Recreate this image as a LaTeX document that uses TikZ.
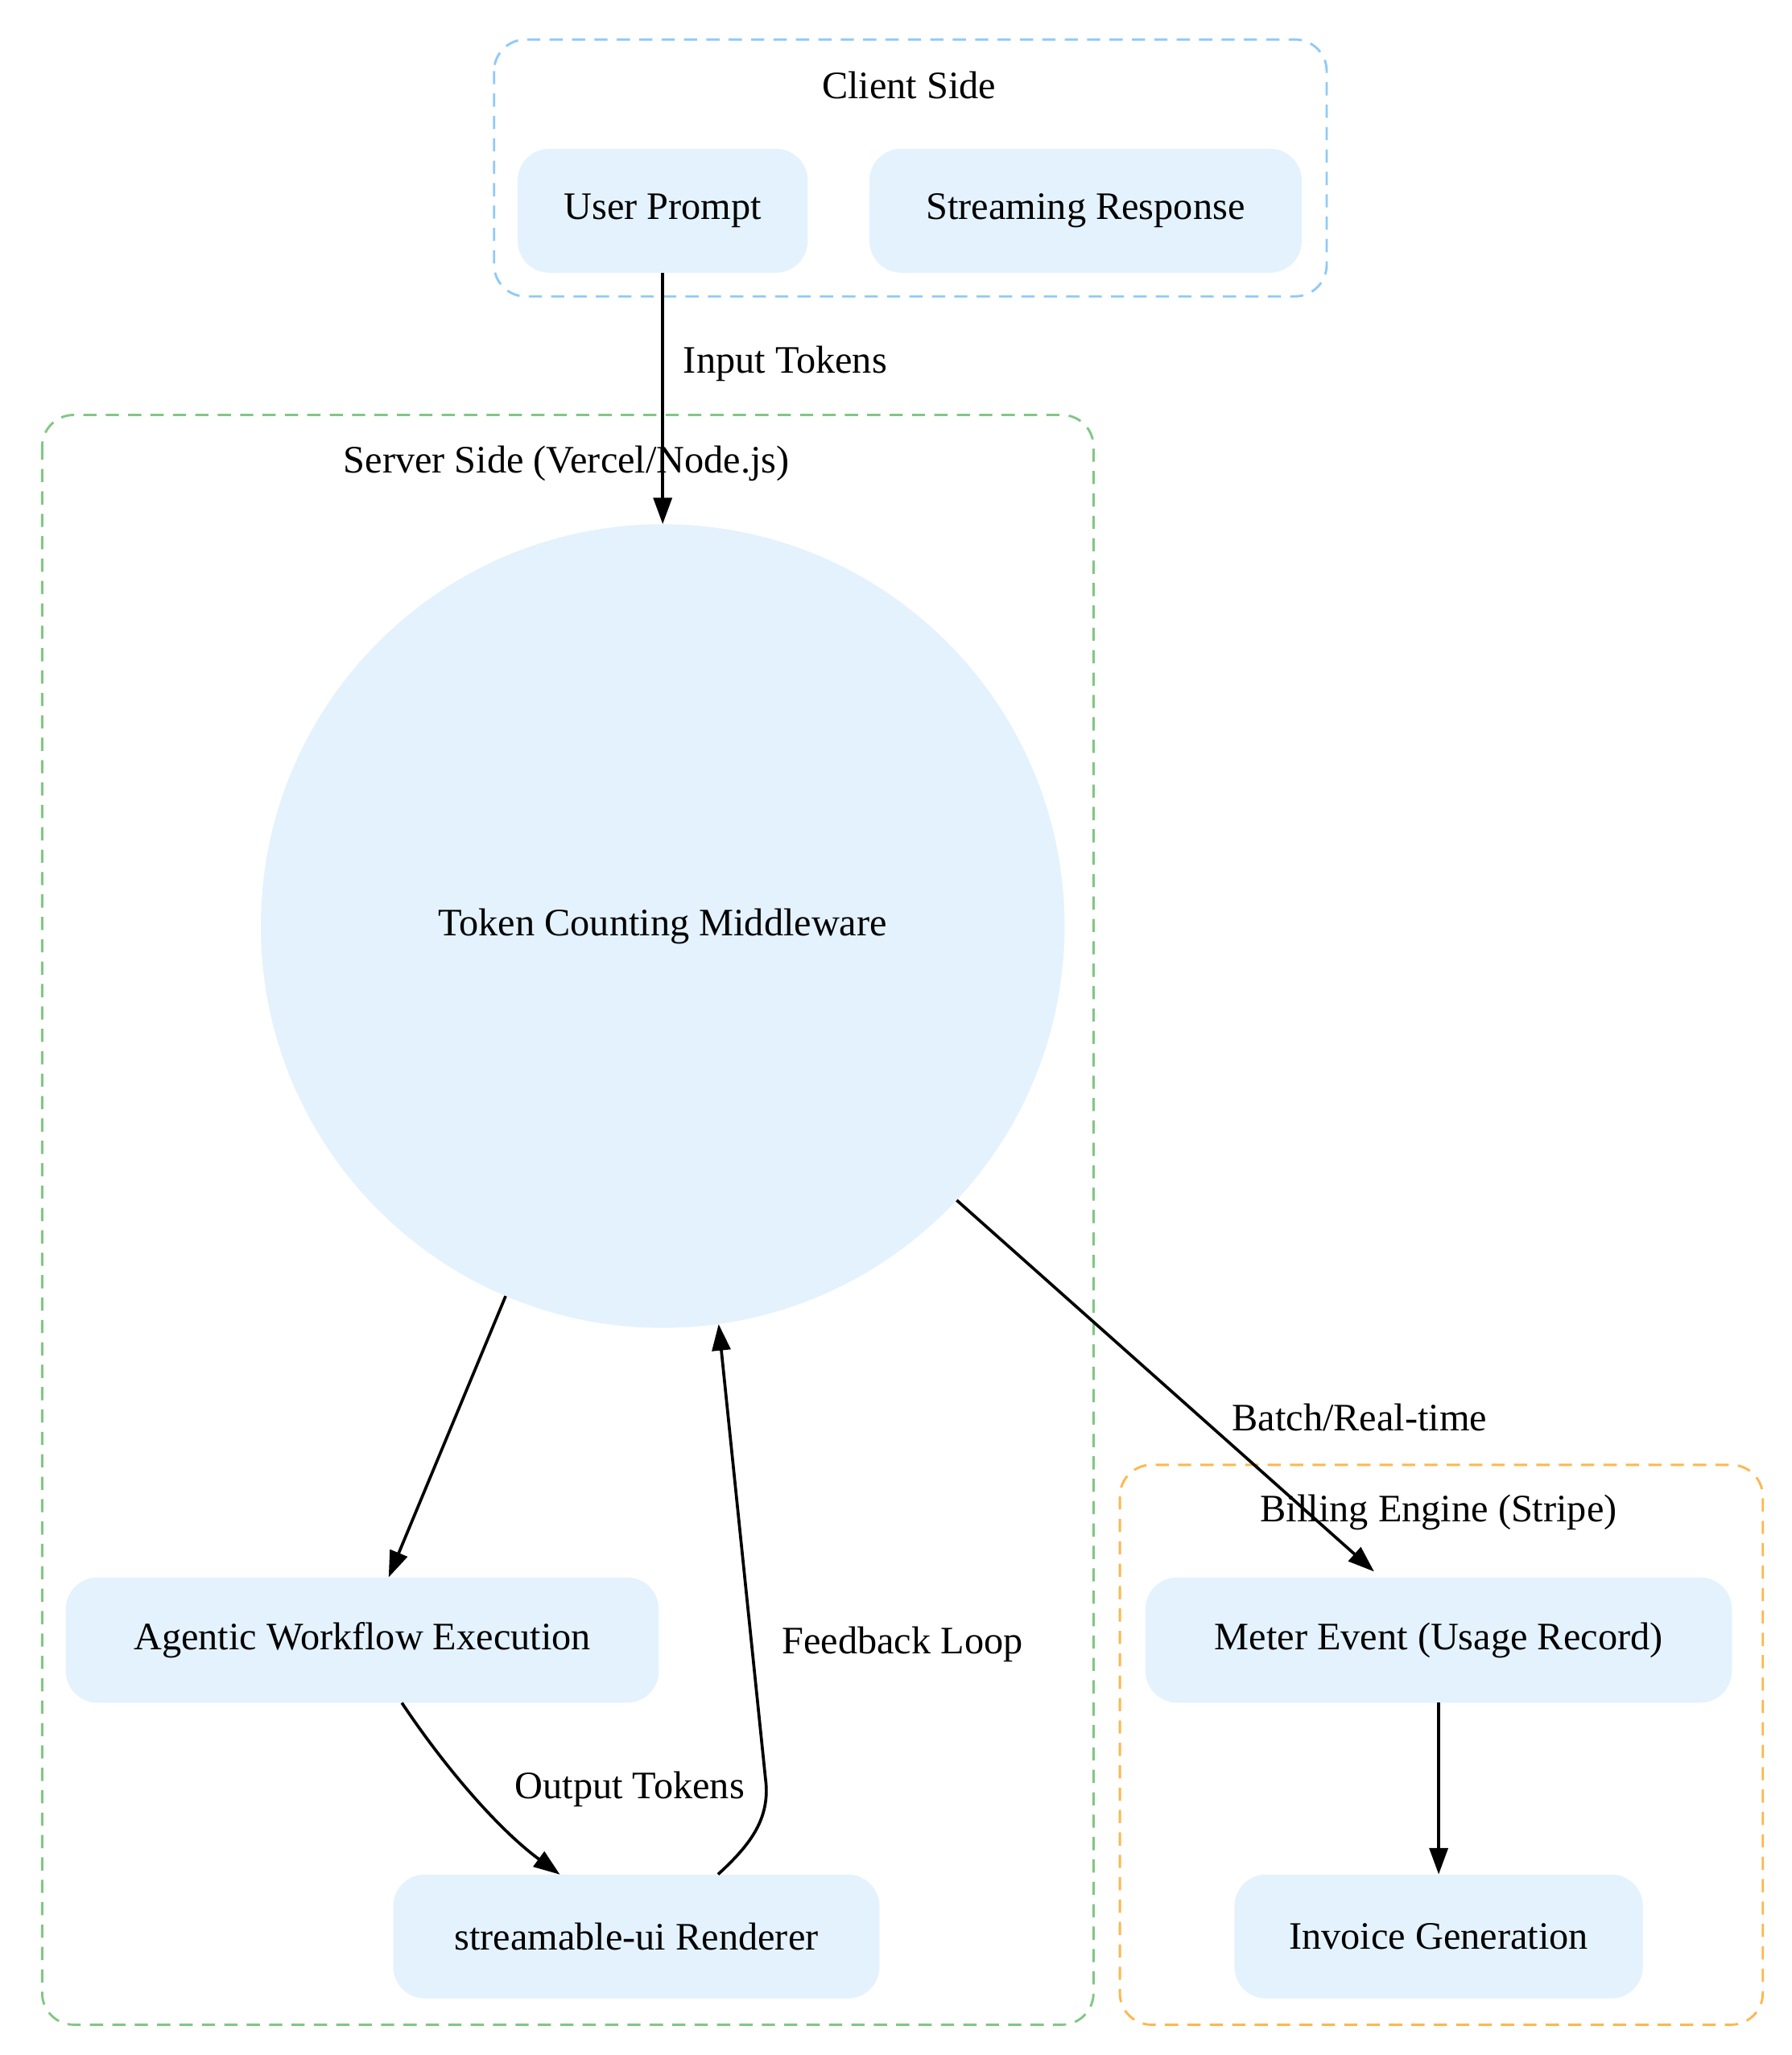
\documentclass[tikz,border=0pt]{standalone}
\usepackage{fontspec}
\setmainfont{Liberation Serif}
\usetikzlibrary{arrows.meta}
\definecolor{nfill}{HTML}{E3F2FD}
\definecolor{cblue}{HTML}{90CAF9}
\definecolor{cgreen}{HTML}{81C784}
\definecolor{corange}{HTML}{FFB74D}
\begin{document}
\begin{tikzpicture}[x=0.05cm,y=-0.05cm,
  every node/.style={font=\fontsize{42}{50}\selectfont},
  box/.style={fill=nfill,rounded corners=1.2cm,inner sep=0pt},
  clus/.style={dashed,line width=2.5pt,rounded corners=1.2cm,dash pattern=on 0.5cm off 0.35cm},
  edge/.style={line width=3.2pt,-{Triangle[length=1cm,width=0.7cm]}},
  lab/.style={inner sep=0pt}]
\useasboundingbox (0,0) rectangle (1360,1560);
\fill[white] (0,0) rectangle (1360,1560);
\draw[clus,cblue] (375,30) rectangle (1007,225);
\node[lab] (lc) at (690,65) {Client Side};
\draw[clus,cgreen] (32,315) rectangle (830,1537);
\node[lab] (ls) at (430,352) {Server Side (Vercel/Node.js)};
\draw[clus,corange] (850,1112) rectangle (1338,1537);
\node[lab] (lb) at (1092,1148) {Billing Engine (Stripe)};

\node[box,minimum width=220*0.05cm,minimum height=94*0.05cm] (up) at (503,160) {User Prompt};
\node[box,minimum width=328*0.05cm,minimum height=94*0.05cm] (sr) at (824,160) {Streaming Response};
\node[circle,fill=nfill,minimum size=610*0.05cm,inner sep=0pt] (tc) at (503,703) {Token Counting Middleware};
\node[box,minimum width=450*0.05cm,minimum height=95*0.05cm] (aw) at (275,1245) {Agentic Workflow Execution};
\node[box,minimum width=369*0.05cm,minimum height=94*0.05cm] (rr) at (483,1470) {streamable-ui Renderer};
\node[box,minimum width=445*0.05cm,minimum height=95*0.05cm] (me) at (1092,1245) {Meter Event (Usage Record)};
\node[box,minimum width=310*0.05cm,minimum height=94*0.05cm] (ig) at (1092,1470) {Invoice Generation};

\draw[edge] (up.south) -- (tc.north);
\node[lab] at (596,276) {Input Tokens};
\draw[edge] (tc.-113) -- (aw.north -| 295,0);
\draw[edge] (aw.south -| 305,0) .. controls (340,1345) and (380,1390) .. (425,1423);
\node[lab] at (478,1358) {Output Tokens};
\draw[edge] (rr.north -| 545,0) .. controls (570,1400) and (585,1380) .. (581,1350) -- (tc.-82);
\node[lab] at (685,1248) {Feedback Loop};
\draw[edge] (tc.-43) -- (1043,1193);
\node[lab] at (1032,1076) {Batch/Real-time};
\draw[edge] (me) -- (ig);
\end{tikzpicture}
\end{document}
